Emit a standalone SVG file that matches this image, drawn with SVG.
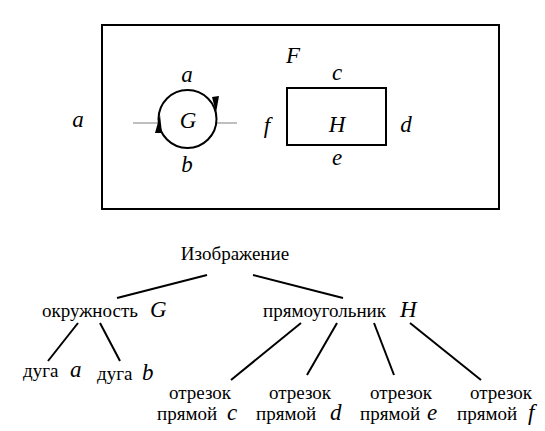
<svg xmlns="http://www.w3.org/2000/svg" width="545" height="431" viewBox="0 0 545 431">
<style>
.t{font-size:19px}
.i{font-size:23px;font-style:italic}
.ln{stroke:#000;stroke-width:2;fill:none}
</style>
<rect width="545" height="431" fill="#fff"/>
<g font-family="Liberation Serif, Times New Roman, serif" fill="#000">
<g id="scene">
<rect x="102" y="25" width="397" height="184" fill="none" stroke="#000" stroke-width="2"/>
<text class="i" x="78" y="127" text-anchor="middle">a</text>
<text class="i" x="293" y="63" text-anchor="middle">F</text>
</g>
<g id="circleG">
<line x1="133" y1="123" x2="158" y2="123" stroke="#aaa" stroke-width="1.5"/>
<line x1="217" y1="123" x2="237" y2="123" stroke="#aaa" stroke-width="1.5"/>
<circle cx="187.5" cy="119" r="29" fill="none" stroke="#000" stroke-width="2"/>
<polygon points="160,115 155,133 162,133" fill="#000"/>
<polygon points="212,97 219,96 216,113" fill="#000"/>
<text class="i" x="188" y="128" text-anchor="middle">G</text>
<text class="i" x="187" y="82" text-anchor="middle">a</text>
<text class="i" x="187" y="172" text-anchor="middle">b</text>
</g>
<g id="rectH">
<rect x="287" y="88" width="99" height="57" fill="none" stroke="#000" stroke-width="2"/>
<text class="i" x="337" y="132" text-anchor="middle">H</text>
<text class="i" x="337" y="80" text-anchor="middle">c</text>
<text class="i" x="267" y="133" text-anchor="middle">f</text>
<text class="i" x="406" y="132" text-anchor="middle">d</text>
<text class="i" x="337" y="165" text-anchor="middle">e</text>
</g>
<g id="connectors">
<line class="ln" x1="207" y1="275" x2="117" y2="298"/>
<line class="ln" x1="253" y1="275" x2="343" y2="298"/>
<line class="ln" x1="78" y1="323" x2="48" y2="361"/>
<line class="ln" x1="100" y1="323" x2="120" y2="361"/>
<line class="ln" x1="301" y1="323" x2="231" y2="380"/>
<line class="ln" x1="337" y1="323" x2="307" y2="375"/>
<line class="ln" x1="374" y1="323" x2="394" y2="375"/>
<line class="ln" x1="410" y1="323" x2="481" y2="380"/>
</g>
<g id="root"><text class="t" x="235" y="260" text-anchor="middle">Изображение</text></g>
<g id="nodeG"><text class="t" x="42" y="317">окружность <tspan class="i" x="150">G</tspan></text></g>
<g id="nodeH"><text class="t" x="263" y="317">прямоугольник <tspan class="i" x="400">H</tspan></text></g>
<g id="arcA"><text class="t" x="23" y="377">дуга <tspan class="i" x="70">a</tspan></text></g>
<g id="arcB"><text class="t" x="97" y="380">дуга <tspan class="i" x="142">b</tspan></text></g>
<g id="segC"><text class="t" x="200" y="399" text-anchor="middle">отрезок</text><text class="t" x="157" y="420">прямой <tspan class="i" x="227">c</tspan></text></g>
<g id="segD"><text class="t" x="300" y="399" text-anchor="middle">отрезок</text><text class="t" x="256" y="420">прямой <tspan class="i" x="330">d</tspan></text></g>
<g id="segE"><text class="t" x="401" y="399" text-anchor="middle">отрезок</text><text class="t" x="360" y="420">прямой <tspan class="i" x="427">e</tspan></text></g>
<g id="segF"><text class="t" x="501" y="399" text-anchor="middle">отрезок</text><text class="t" x="457" y="420">прямой <tspan class="i" x="528">f</tspan></text></g>
</g>
</svg>
